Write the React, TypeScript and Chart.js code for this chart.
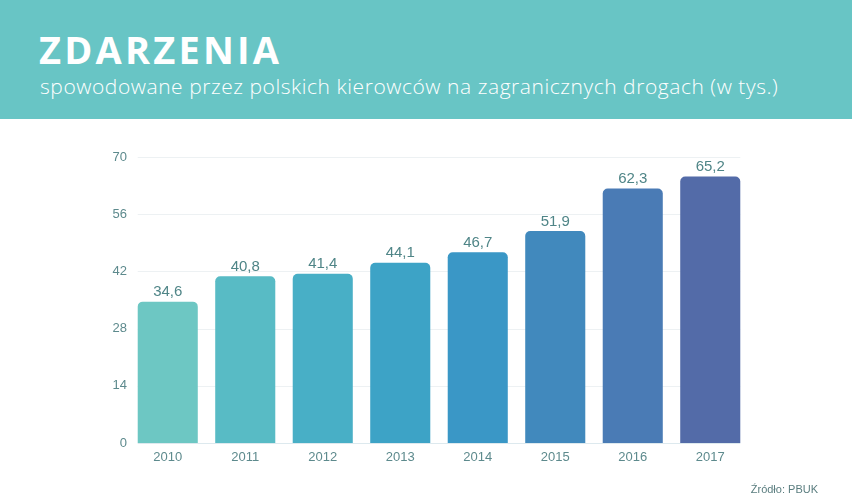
import React, { useEffect, useRef } from "react";
import { Chart, registerables } from "chart.js";

Chart.register(...registerables);

const years = ["2010", "2011", "2012", "2013", "2014", "2015", "2016", "2017"];
const values = [34.6, 40.8, 41.4, 44.1, 46.7, 51.9, 62.3, 65.2];
const valueLabels = ["34,6", "40,8", "41,4", "44,1", "46,7", "51,9", "62,3", "65,2"];
const barColors = ["#6dc7c3", "#58bbc5", "#48afc6", "#3da3c6", "#3a97c6", "#4189bd", "#4a7bb5", "#536ba8"];
const yTicks = [0, 14, 28, 42, 56, 70];

const title = "ZDARZENIA";
const subtitle = "spowodowane przez polskich kierowców na zagranicznych drogach (w tys.)";
const source = "Źródło: PBUK";

const gridPlugin = {
  id: "customGrid",
  beforeDatasetsDraw(chart: any) {
    const meta = chart.getDatasetMeta(0);
    const first = meta.data[0];
    const last = meta.data[meta.data.length - 1];
    const left = first.x - first.width / 2;
    const right = last.x + last.width / 2;
    const y = chart.scales.y;
    const ctx = chart.ctx;
    ctx.save();
    ctx.lineWidth = 1;
    yTicks.forEach((t) => {
      const py = Math.round(y.getPixelForValue(t)) + 0.5;
      ctx.strokeStyle = t === 0 ? "#dde9ee" : "#edf1f3";
      ctx.beginPath();
      ctx.moveTo(left, py);
      ctx.lineTo(right, py);
      ctx.stroke();
    });
    ctx.restore();
  },
};

const labelPlugin = {
  id: "valueLabels",
  afterDatasetsDraw(chart: any) {
    const meta = chart.getDatasetMeta(0);
    const ctx = chart.ctx;
    ctx.save();
    ctx.font = "15px 'Liberation Sans', Arial, sans-serif";
    ctx.fillStyle = "#4f8587";
    ctx.textAlign = "center";
    ctx.textBaseline = "bottom";
    meta.data.forEach((bar: any, i: number) => {
      ctx.fillText(valueLabels[i], bar.x, bar.y - 2);
    });
    ctx.restore();
  },
};

export default function App() {
  const canvasRef = useRef<HTMLCanvasElement | null>(null);

  useEffect(() => {
    document.body.style.margin = "0";
    const ctx = canvasRef.current!.getContext("2d")!;
    const chart = new Chart(ctx, {
      type: "bar",
      data: {
        labels: years,
        datasets: [
          {
            data: values,
            backgroundColor: barColors,
            borderRadius: { topLeft: 5, topRight: 5, bottomLeft: 0, bottomRight: 0 },
            borderSkipped: false,
            barPercentage: 0.775,
            categoryPercentage: 1,
          },
        ],
      },
      options: {
        responsive: false,
        animation: false,
        layout: { padding: { left: 0, right: 103, top: 39, bottom: 0 } },
        plugins: { legend: { display: false }, tooltip: { enabled: false } },
        scales: {
          x: {
            grid: { display: false, drawTicks: false },
            border: { display: false },
            ticks: {
              color: "#5d8a8d",
              font: { family: "'Liberation Sans', Arial, sans-serif", size: 13 },
              padding: 7,
            },
            afterFit: (s: any) => {
              s.height = 55;
            },
          },
          y: {
            min: 0,
            max: 70,
            grid: { display: false, drawTicks: false },
            border: { display: false },
            afterBuildTicks: (s: any) => {
              s.ticks = yTicks.map((v) => ({ value: v }));
            },
            ticks: {
              color: "#5d8a8d",
              font: { family: "'Liberation Sans', Arial, sans-serif", size: 13 },
              padding: 2,
            },
            afterFit: (s: any) => {
              s.width = 129;
            },
          },
        },
      },
      plugins: [gridPlugin, labelPlugin],
    });
    return () => chart.destroy();
  }, []);

  return (
    <div style={{ position: "relative", width: 852, height: 498, background: "#ffffff", overflow: "hidden" }}>
      <div
        style={{
          position: "absolute",
          left: 0,
          top: 0,
          width: 852,
          height: 119,
          background: "#68c5c5",
        }}
      >
        <div
          style={{
            position: "absolute",
            left: 39,
            top: 26,
            color: "#ffffff",
            fontFamily: "'Open Sans', sans-serif",
            fontWeight: 700,
            fontSize: 38,
            lineHeight: "46px",
            letterSpacing: 3.2,
            whiteSpace: "nowrap",
          }}
        >
          {title}
        </div>
        <div
          style={{
            position: "absolute",
            left: 40,
            top: 72,
            color: "#ffffff",
            fontFamily: "'Open Sans', sans-serif",
            fontWeight: 300,
            fontSize: 21,
            lineHeight: "28px",
            letterSpacing: 0.55,
            whiteSpace: "nowrap",
          }}
        >
          {subtitle}
        </div>
      </div>
      <canvas
        ref={canvasRef}
        width={852}
        height={380}
        style={{ position: "absolute", left: 0, top: 118, width: 852, height: 380 }}
      />
      <div
        style={{
          position: "absolute",
          right: 34,
          top: 482,
          color: "#5a7d7f",
          fontFamily: "'Liberation Sans', Arial, sans-serif",
          fontSize: 11,
          lineHeight: "14px",
          whiteSpace: "nowrap",
        }}
      >
        {source}
      </div>
    </div>
  );
}
